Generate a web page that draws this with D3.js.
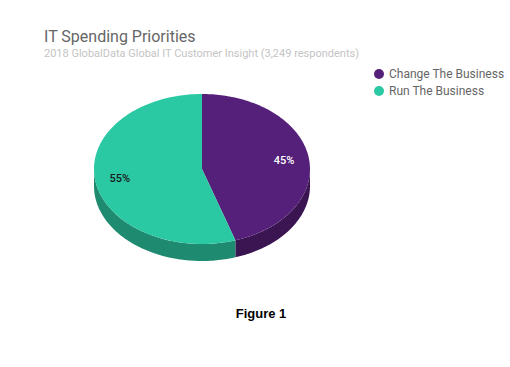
<!DOCTYPE html>
<html>
<head>
<meta charset="utf-8">
<script src="https://cdn.jsdelivr.net/npm/d3@7"></script>
<style>
  body { margin: 0; background: #fff; }
  text { font-family: Roboto, sans-serif; }
</style>
</head>
<body>
<script>
// chart data
var categories = ['Change The Business', 'Run The Business'];
var shares = [45, 55];
var colors = ['#55207a', '#2bc8a4'];
var sideColors = ['#3a1552', '#1e8a70'];
var labelColors = ['#ffffff', '#1a1a1a'];

var w = 510, h = 367;
var cx = 202, cy = 169, rx = 108, ry = 75, depth = 17;

var svg = d3.select('body').append('svg')
  .attr('width', w)
  .attr('height', h);

svg.append('text')
  .attr('x', 44).attr('y', 42)
  .attr('font-size', 16)
  .attr('fill', '#666')
  .text('IT Spending Priorities');

svg.append('text')
  .attr('x', 44).attr('y', 57)
  .attr('font-size', 11)
  .attr('fill', '#c4c4c4')
  .text('2018 GlobalData Global IT Customer Insight (3,249 respondents)');

var pie = d3.pie().sort(null).value(function(d) { return d; });
var arcs = pie(shares);

// angle measured clockwise from 12 o'clock, squashed to an ellipse
function pt(a, dy) {
  return [cx + rx * Math.sin(a), cy - ry * Math.cos(a) + dy];
}
function arcPoints(a0, a1, dy) {
  var n = Math.max(2, Math.ceil((a1 - a0) / 0.02));
  return d3.range(n + 1).map(function(i) { return pt(a0 + (a1 - a0) * i / n, dy); });
}
var line = d3.line();

// side walls (front half only)
arcs.forEach(function(d, i) {
  var a0 = Math.max(d.startAngle, Math.PI / 2);
  var a1 = Math.min(d.endAngle, Math.PI * 1.5);
  if (a1 <= a0) return;
  var pts = arcPoints(a0, a1, 0).concat(arcPoints(a0, a1, depth).reverse());
  svg.append('path')
    .attr('d', line(pts) + 'Z')
    .attr('fill', sideColors[i]);
});

// top faces
arcs.forEach(function(d, i) {
  var pts = [[cx, cy]].concat(arcPoints(d.startAngle, d.endAngle, 0));
  svg.append('path')
    .attr('d', line(pts) + 'Z')
    .attr('fill', colors[i]);
});

// percent labels
arcs.forEach(function(d, i) {
  var m = (d.startAngle + d.endAngle) / 2;
  svg.append('text')
    .attr('x', cx + rx * 0.77 * Math.sin(m))
    .attr('y', cy - ry * 0.77 * Math.cos(m) + 4)
    .attr('text-anchor', 'middle')
    .attr('font-size', 11)
    .attr('font-weight', 500)
    .attr('fill', labelColors[i])
    .text(d.data + '%');
});

// legend
var legend = svg.selectAll('.legend')
  .data(categories)
  .enter().append('g')
  .attr('transform', function(d, i) { return 'translate(379,' + (74 + i * 17) + ')'; });
legend.append('circle')
  .attr('r', 5)
  .attr('fill', function(d, i) { return colors[i]; });
legend.append('text')
  .attr('x', 10).attr('y', 4)
  .attr('font-size', 12)
  .attr('fill', '#666')
  .text(function(d) { return d; });

svg.append('text')
  .attr('x', 261).attr('y', 318)
  .attr('text-anchor', 'middle')
  .style('font-family', 'Arial, "Liberation Sans", sans-serif')
  .attr('font-size', 13)
  .attr('font-weight', 'bold')
  .attr('fill', '#000')
  .text('Figure 1');
</script>
</body>
</html>
